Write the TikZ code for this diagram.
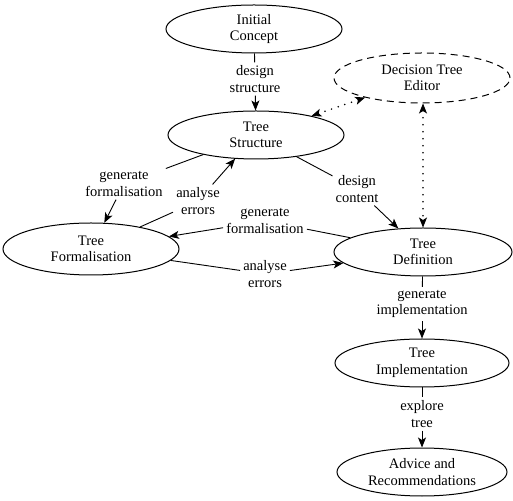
\documentclass[tikz,border=0pt]{standalone}
\usepackage{fontspec}
\setmainfont{Liberation Serif}
\usetikzlibrary{shapes.geometric,arrows.meta}
\begin{document}
\begin{tikzpicture}[x=1pt,y=1pt,
  every node/.style={font=\fontsize{14.5}{16.5}\selectfont, align=center},
  state/.style={ellipse, draw, line width=1pt, inner sep=0pt, minimum width=176pt, minimum height=48pt},
  editor/.style={state, dash pattern=on 7pt off 5pt},
  lbl/.style={inner sep=3pt},
  edge/.style={line width=0.9pt},
  arr/.style={edge, -{Stealth[length=10pt,width=8pt,inset=2.5pt]}},
  dots/.style={line width=1.7pt, dash pattern=on 0pt off 7pt, line cap=round,
    {Stealth[length=10pt,width=8pt,inset=2.5pt,line cap=butt,line width=0.9pt]}-{Stealth[length=10pt,width=8pt,inset=2.5pt,line cap=butt,line width=0.9pt]}}
]
\useasboundingbox (0,0) rectangle (513,500);

% states
\node[state] (IC)  at (254,471) {Initial\\Concept};
\node[state] (TS)  at (256,365) {Tree\\Structure};
\node[editor, minimum height=50pt] (DTE) at (422,422) {Decision Tree\\Editor};
\node[state, minimum height=52pt] (TF)  at (91,251) {Tree\\Formalisation};
\node[state, minimum width=178pt] (TD)  at (423,248) {Tree\\Definition};
\node[state, minimum width=174pt] (TI)  at (422,137) {Tree\\Implementation};
\node[state, minimum width=170pt] (AR)  at (422,28) {Advice and\\Recommendations};

% labels
\node[lbl] (L1) at (255,421) {design\\structure};
\node[lbl] (L2) at (357,311) {design\\content};
\node[lbl] (L3) at (124,316) {generate\\formalisation};
\node[lbl] (L4) at (198,299) {analyse\\errors};
\node[lbl] (L5) at (265,279) {generate\\formalisation};
\node[lbl] (L6) at (265,226) {analyse\\errors};
\node[lbl] (L7) at (422,196) {generate\\implementation};
\node[lbl] (L8) at (422,86) {explore\\tree};

% labelled edges
\draw[edge] (IC) -- (L1);  \draw[arr] (L1) -- (TS);
\draw[edge] (TS) -- (L2);  \draw[arr] (L2) -- (TD);
\draw[edge] (TS) -- (L3);  \draw[arr] (L3) -- (TF);
\draw[edge] (TF) -- (L4);  \draw[arr] (L4) -- (TS);
\draw[edge] (TD) -- (L5);  \draw[arr] (L5) -- (TF);
\draw[edge] (TF) -- (L6);  \draw[arr] (L6) -- (TD);
\draw[edge] (TD) -- (L7);  \draw[arr] (L7) -- (TI);
\draw[edge] (TI) -- (L8);  \draw[arr] (L8) -- (AR);

% dotted links to editor
\draw[dots] (TS) -- (DTE);
\draw[dots] (DTE.south -| TD.north) -- (TD.north);
\end{tikzpicture}
\end{document}
